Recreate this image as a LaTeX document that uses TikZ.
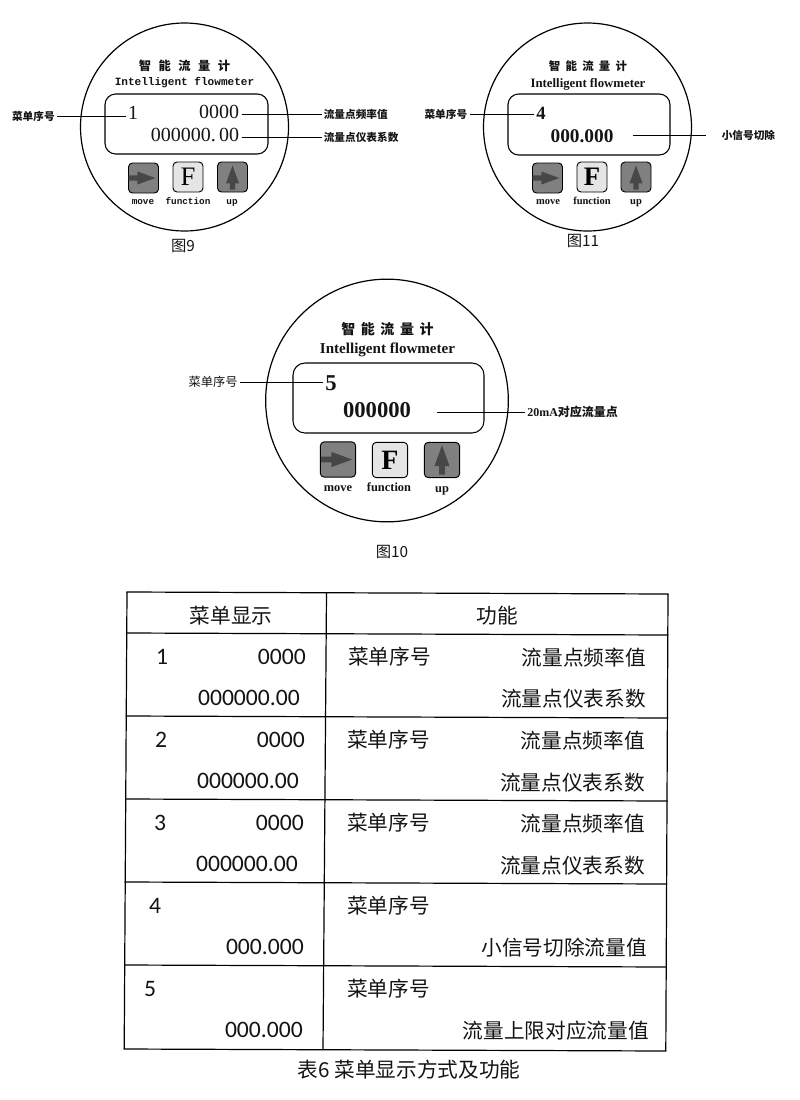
\documentclass[tikz,border=0pt]{standalone}
\usepackage{fontspec}
\setmainfont{Liberation Serif}
\setmonofont{Liberation Mono}
\newfontfamily\cjk{Noto Sans CJK SC}
\newfontfamily\calib{Carlito}
\usetikzlibrary{calc}
\usetikzlibrary{shapes.arrows}

\tikzset{
  txt/.style={inner sep=1.5pt, text=black!92},
  menu/.style={txt, font=\cjk\bfseries\fontsize{8}{8}\selectfont},
  caption/.style={txt, font=\cjk\fontsize{11.5}{12}\selectfont},
  lead/.style={line width=.65pt},
  keydark/.style={draw, line width=.7pt, rounded corners=3pt, fill=black!50, inner sep=0pt},
  keylight/.style={draw, line width=.7pt, rounded corners=3pt, fill=black!10, inner sep=0pt},
  arrowkey/.style={single arrow, fill=black!72, inner sep=1.7pt, single arrow tip angle=40},
  tabcjk/.style={inner sep=0pt, text=black!92, font=\cjk\fontsize{15.5}{16}\selectfont},
  tabnum/.style={inner sep=0pt, text=black!92, font=\calib\fontsize{17.7}{18}\selectfont}
}
\newcommand{\gapname}[1]{\cjk\bfseries 智\kern#1 能\kern#1 流\kern#1 量\kern#1 计}

\begin{document}
\begin{tikzpicture}[x=.75pt, y=-.75pt]
\useasboundingbox (0,0) rectangle (800,1100);

% figure 9
\draw[line width=.9pt] (184.5,127) circle (78pt);
\draw[line width=.8pt, rounded corners=8pt] (105,94) rectangle (268,154);
\node[txt, font=\fontsize{9.2}{10}\selectfont] (titleA) at (184.5,66) {\gapname{5.6pt}};
\node[txt, font=\ttfamily\bfseries\fontsize{8.3}{9}\selectfont] (subA) at (184.5,83) {Intelligent flowmeter};
\node[txt, font=\fontsize{15}{15}\selectfont] (idxA) at (133,113) {1};
\node[txt, anchor=east, font=\fontsize{15}{15}\selectfont] (freqA) at (241.5,112) {0000};
\node[txt, anchor=east, font=\fontsize{15}{15}\selectfont] (coefA) at (241.5,135) {000000.\,00};
\node[menu, anchor=east] (menuA) at (57,116) {菜单序号};
\node[menu, anchor=west] (lblfreqA) at (321.5,114) {流量点频率值};
\node[menu, anchor=west] (lblcoefA) at (321.5,137) {流量点仪表系数};
\draw[lead] (menuA.east) -- (menuA.east -| idxA.west);
\draw[lead] (lblfreqA.west -| freqA.east) -- (lblfreqA.west);
\draw[lead] (lblcoefA.west -| coefA.east) -- (lblcoefA.west);
\node[keydark, minimum size=22.5pt] (moveA) at (143.5,178) {};
\node[keylight, minimum size=22.5pt, font=\fontsize{20}{20}\selectfont] (funcA) at (188,177) {F};
\node[keydark, minimum size=22.5pt] (upA) at (232.5,177) {};
\node[arrowkey, minimum height=20pt, minimum width=9.5pt, single arrow head extend=3pt] (arrmoveA) at (138.5,178) {};
\node[arrowkey, shape border rotate=90, minimum height=18pt, minimum width=9.5pt, single arrow head extend=3pt] (arrupA) at (232.5,181) {};
\foreach \nm/\xx/\tx in {lmove/143/move, lfunc/188/function, lup/232/up}
  \node[txt, anchor=base, font=\ttfamily\bfseries\fontsize{7}{8}\selectfont] (\nm A) at (\xx,204) {\tx};
\node[caption] (capA) at (183,246) {图9};

% figure 11
\draw[line width=.9pt] (587.5,127) circle (78pt);
\draw[line width=.8pt, rounded corners=8pt] (508,94) rectangle (670,155);
\node[txt, font=\fontsize{8.6}{10}\selectfont] (titleB) at (588,66) {\gapname{3.9pt}};
\node[txt, font=\bfseries\fontsize{9.6}{10}\selectfont] (subB) at (588,84) {Intelligent flowmeter};
\node[txt, font=\bfseries\fontsize{14}{14}\selectfont] (idxB) at (541,113) {4};
\node[txt, font=\bfseries\fontsize{14.5}{15}\selectfont] (coefB) at (582,136) {000.000};
\node[menu, anchor=east] (menuB) at (469.5,114) {菜单序号};
\node[menu, anchor=west] (lblcutB) at (719.5,135) {小信号切除};
\draw[lead] (menuB.east) -- (menuB.east -| idxB.west);
\draw[lead, shorten <=13pt, shorten >=10pt] (lblcutB.west -| coefB.east) -- (lblcutB.west);
\node[keydark, minimum size=22.5pt] (moveB) at (547.5,178) {};
\node[keylight, minimum size=22.5pt, font=\bfseries\fontsize{20}{20}\selectfont] (funcB) at (592,177) {F};
\node[keydark, minimum size=22.5pt] (upB) at (636,177) {};
\node[arrowkey, minimum height=20pt, minimum width=9.5pt, single arrow head extend=3pt] (arrmoveB) at (542.5,178) {};
\node[arrowkey, shape border rotate=90, minimum height=18pt, minimum width=9.5pt, single arrow head extend=3pt] (arrupB) at (636,181) {};
\foreach \nm/\xx/\tx in {lmove/548/move, lfunc/592/function, lup/636/up}
  \node[txt, anchor=base, font=\bfseries\fontsize{7.9}{8}\selectfont] (\nm B) at (\xx,204) {\tx};
\node[caption] (capB) at (583,241) {图11};

% figure 10
\draw[line width=.9pt] (387,400.5) circle (91pt);
\draw[line width=.8pt, rounded corners=9pt] (293,363) rectangle (484,433);
\node[txt, font=\fontsize{10.5}{11}\selectfont] (titleC) at (387.5,329) {\gapname{4.2pt}};
\node[txt, font=\bfseries\fontsize{11.3}{12}\selectfont] (subC) at (387.5,349.5) {Intelligent flowmeter};
\node[txt, font=\bfseries\fontsize{17}{17}\selectfont] (idxC) at (331,383) {5};
\node[txt, font=\bfseries\fontsize{17}{17}\selectfont] (coefC) at (377,410) {000000};
\node[menu, anchor=east, font=\cjk\fontsize{9.2}{10}\selectfont] (menuC) at (240,382) {菜单序号};
\node[menu, anchor=west, font=\bfseries\fontsize{9}{10}\selectfont] (lblspanC) at (525,412) {20mA{\cjk 对应流量点}};
\draw[lead] (menuC.east) -- (menuC.east -| idxC.west);
\draw[lead, shorten <=18pt] (lblspanC.west -| coefC.east) -- (lblspanC.west);
\node[keydark, minimum size=26.5pt] (moveC) at (338,459.5) {};
\node[keylight, minimum size=26.5pt, font=\bfseries\fontsize{21}{21}\selectfont] (funcC) at (390,460) {F};
\node[keydark, minimum size=26.5pt] (upC) at (442,460) {};
\node[arrowkey, inner sep=2pt, minimum height=23.5pt, minimum width=11pt, single arrow head extend=3.5pt] (arrmoveC) at (332.5,459.5) {};
\node[arrowkey, inner sep=2pt, shape border rotate=90, minimum height=22pt, minimum width=11pt, single arrow head extend=3.5pt] (arrupC) at (442,464) {};
\foreach \nm/\xx/\yy/\tx in {lmove/338/491/move, lfunc/389/491/function, lup/442/492/up}
  \node[txt, anchor=base, font=\bfseries\fontsize{9.3}{10}\selectfont] (\nm C) at (\xx,\yy) {\tx};
\node[caption] (capC) at (392,552) {图10};

% table
\foreach \xl/\yl/\xr/\yr in {127/592/668/594, 126.7/633/667.8/635, 126.2/716/667.4/718, 125.7/799/667/801, 125.2/882/666.6/884, 124.7/965/666.2/967, 124.2/1049/665.8/1051}
  \draw[line width=.9pt, line cap=rect] (\xl,\yl) -- (\xr,\yr);
\draw[line width=.9pt] (127,592) -- (124.2,1049);
\draw[line width=.9pt] (668,594) -- (665.8,1051);
\draw[line width=.9pt] (326.5,593) -- (323,1050);

\node[tabcjk] (headmenu) at (231,616) {菜单显示};
\node[tabcjk] (headfunc) at (497,616) {功能};

\foreach \r/\yy/\dx in {1/657/0, 2/740/-1, 3/823/-2}{
  \node[tabnum] (idx\r) at ({162+\dx},\yy) {\r};
  \node[tabnum, anchor=east] (freq\r) at ({306+\dx},\yy) {0000};
  \node[tabnum, anchor=east] (coef\r) at ({300+\dx},{\yy+41}) {000000.00};
  \node[tabcjk, anchor=west] (name\r) at ({348+max(\dx,-1)},\yy) {菜单序号};
  \node[tabcjk, anchor=east] (lblfreq\r) at ({646+max(\dx,-1)},{\yy+1}) {流量点频率值};
  \node[tabcjk, anchor=east] (lblcoef\r) at ({646+max(\dx,-1)},{\yy+42+max(-\dx,0)/2}) {流量点仪表系数};
}

\node[tabnum] (idx4) at (155,906) {4};
\node[tabnum, anchor=east] (val4) at (304,947) {000.000};
\node[tabcjk, anchor=west] (name4) at (347,906) {菜单序号};
\node[tabcjk, anchor=east] (lblcut4) at (647,948) {小信号切除流量值};

\node[tabnum] (idx5) at (150,989) {5};
\node[tabnum, anchor=east] (val5) at (303,1030) {000.000};
\node[tabcjk, anchor=west] (name5) at (347,989) {菜单序号};
\node[tabcjk, anchor=east] (lblspan5) at (649,1031) {流量上限对应流量值};

\node[tabcjk] (captab) at (409,1070) {表6 菜单显示方式及功能};

\end{tikzpicture}
\end{document}
